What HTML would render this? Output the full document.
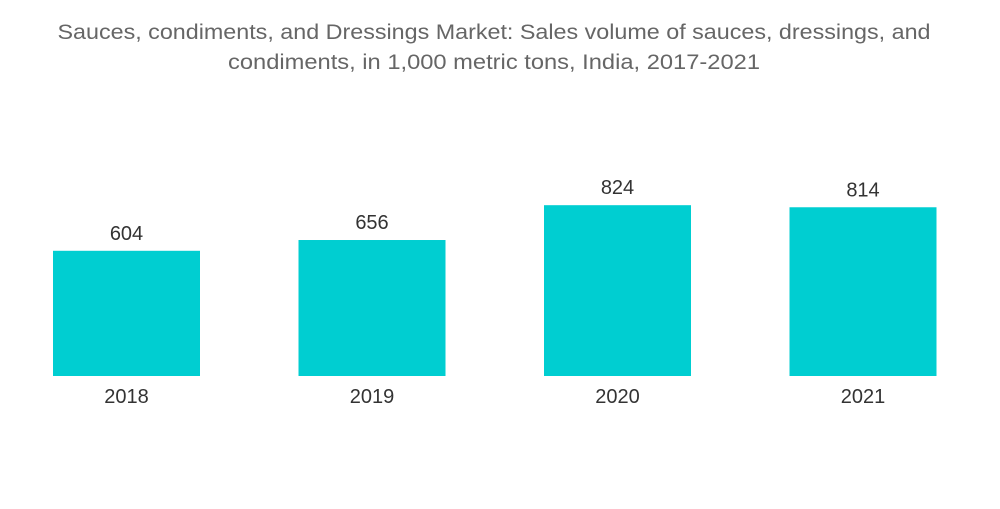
<!DOCTYPE html>
<html><head><meta charset="utf-8"><style>
body{margin:0;background:#fff;width:1000px;height:504px;overflow:hidden;font-family:"Liberation Sans",sans-serif}
</style></head><body>
<svg width="1000" height="504">
<text x="494" y="39" text-anchor="middle" font-size="21" fill="#666" textLength="873" lengthAdjust="spacingAndGlyphs">Sauces, condiments, and Dressings Market: Sales volume of sauces, dressings, and</text>
<text x="494" y="69" text-anchor="middle" font-size="21" fill="#666" textLength="532" lengthAdjust="spacingAndGlyphs">condiments, in 1,000 metric tons, India, 2017-2021</text>
<g id="bars"></g>
</svg>
<script>
const categories=["2018","2019","2020","2021"];
const values=[604,656,824,814];
const g=document.getElementById('bars');
const ns='http://www.w3.org/2000/svg';
const base=376, scale=0.2073, x0=53, step=245.5, bw=147;
function y(v){return base-v*scale;}
categories.forEach((c,i)=>{
 const x=x0+i*step;
 const r=document.createElementNS(ns,'rect');
 r.setAttribute('x',x);r.setAttribute('y',y(values[i]));r.setAttribute('width',bw);r.setAttribute('height',base-y(values[i]));r.setAttribute('fill','#00ced1');
 
 
 g.appendChild(r);
 const t=document.createElementNS(ns,'text');
 t.setAttribute('x',x+bw/2);t.setAttribute('y',y(values[i])-11);t.setAttribute('text-anchor','middle');t.setAttribute('font-size','20');t.setAttribute('fill','#333');
 t.textContent=values[i];
 
 
 g.appendChild(t);
 const l=document.createElementNS(ns,'text');
 l.setAttribute('x',x+bw/2);l.setAttribute('y',403);l.setAttribute('text-anchor','middle');l.setAttribute('font-size','20');l.setAttribute('fill','#333');
 l.textContent=c;
 
 
 g.appendChild(l);
});
</script>
</body></html>
